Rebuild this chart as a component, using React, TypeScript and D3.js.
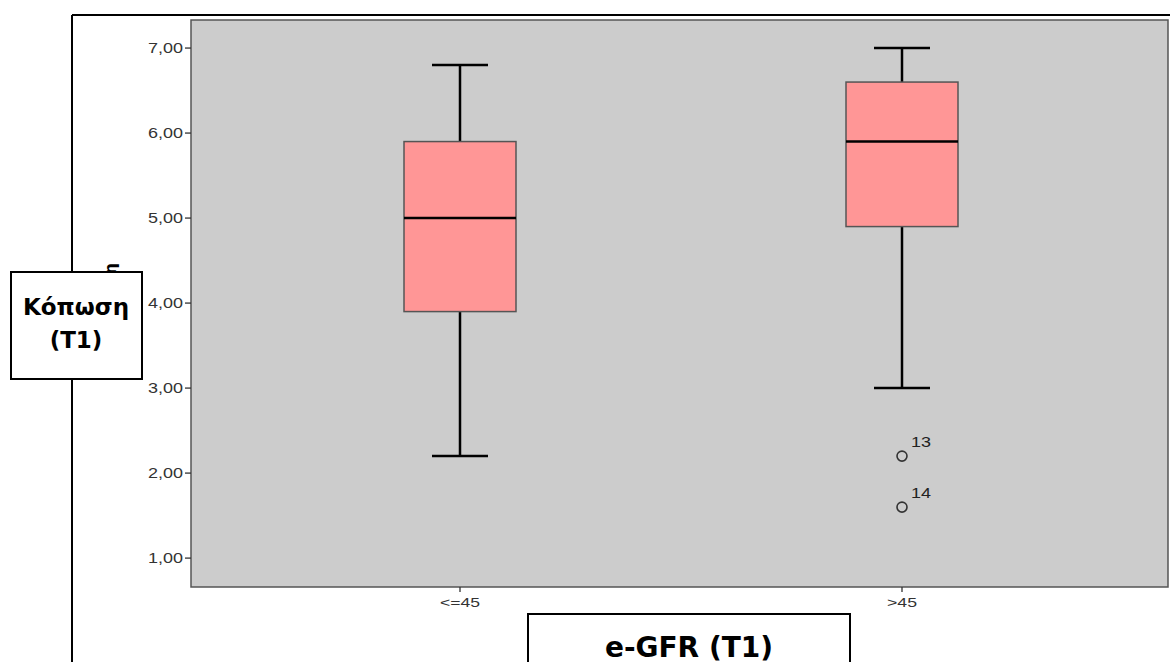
import React from "react";
import * as d3 from "d3";

const categories = ["<=45", ">45"];
const whiskerLow = [2.2, 3.0];
const q1 = [3.9, 4.9];
const median = [5.0, 5.9];
const q3 = [5.9, 6.6];
const whiskerHigh = [6.8, 7.0];
const outlierValues = [[], [2.2, 1.6]];
const outlierLabels = [[], ["13", "14"]];
const yTicks = [1, 2, 3, 4, 5, 6, 7];
const yTitle = "Κόπωση";
const yTitle2 = "(T1)";
const xTitle = "e-GFR (T1)";

const W = 1170;
const H = 662;
const plot = { left: 191, right: 1168, top: 20, bottom: 587 };

export default function App() {
  const y = d3.scaleLinear().domain([0.66, 7.33]).range([plot.bottom, plot.top]);
  const x = d3
    .scalePoint<string>()
    .domain(categories)
    .range([460, 902]);
  const boxW = 112;
  const capW = 56;
  const fmt = (v: number) => d3.format(".2f")(v).replace(".", ",");
  const tickFont = "Liberation Sans, Arial, sans-serif";
  return (
    <svg
      width={W}
      height={H}
      style={{ position: "absolute", left: 0, top: 0, display: "block" }}
    >
      <rect x={0} y={0} width={W} height={H} fill="#fff" />
      {/* outer frame lines */}
      <line x1={72} y1={15} x2={W} y2={15} stroke="#000" strokeWidth={2} />
      <line x1={72} y1={15} x2={72} y2={H} stroke="#000" strokeWidth={2} />
      {/* plot area */}
      <rect
        x={plot.left}
        y={plot.top}
        width={plot.right - plot.left}
        height={plot.bottom - plot.top}
        fill="#CCCCCC"
        stroke="#555"
        strokeWidth={1.5}
      />
      {/* y axis ticks */}
      {yTicks.map((t) => (
        <g key={t}>
          <line x1={plot.left - 6} x2={plot.left} y1={y(t)} y2={y(t)} stroke="#333" strokeWidth={1.3} />
          <text
            x={plot.left - 8}
            y={y(t)}
            dy="0.36em"
            textAnchor="end"
            fontFamily={tickFont}
            fontSize={14}
            textLength={35}
            lengthAdjust="spacingAndGlyphs"
            fill="#333"
          >
            {fmt(t)}
          </text>
        </g>
      ))}
      {/* x axis ticks */}
      {categories.map((c) => (
        <g key={c}>
          <line x1={x(c)} x2={x(c)} y1={plot.bottom} y2={plot.bottom + 5} stroke="#333" strokeWidth={1.3} />
          <text
            x={x(c)}
            y={plot.bottom + 20}
            textAnchor="middle"
            fontFamily={tickFont}
            fontSize={13}
            textLength={c.length > 3 ? 40 : 30}
            lengthAdjust="spacingAndGlyphs"
            fill="#333"
          >
            {c}
          </text>
        </g>
      ))}
      {/* boxes */}
      {categories.map((c, i) => {
        const cx = x(c) as number;
        return (
          <g key={c}>
            <line x1={cx} x2={cx} y1={y(whiskerLow[i])} y2={y(q1[i])} stroke="#000" strokeWidth={2.5} />
            <line x1={cx} x2={cx} y1={y(q3[i])} y2={y(whiskerHigh[i])} stroke="#000" strokeWidth={2.5} />
            <line x1={cx - capW / 2} x2={cx + capW / 2} y1={y(whiskerLow[i])} y2={y(whiskerLow[i])} stroke="#000" strokeWidth={2.5} />
            <line x1={cx - capW / 2} x2={cx + capW / 2} y1={y(whiskerHigh[i])} y2={y(whiskerHigh[i])} stroke="#000" strokeWidth={2.5} />
            <rect
              x={cx - boxW / 2}
              y={y(q3[i])}
              width={boxW}
              height={y(q1[i]) - y(q3[i])}
              fill="#FF9696"
              stroke="#555"
              strokeWidth={1.5}
            />
            <line x1={cx - boxW / 2} x2={cx + boxW / 2} y1={y(median[i])} y2={y(median[i])} stroke="#000" strokeWidth={2.5} />
            {outlierValues[i].map((v, j) => (
              <g key={j}>
                <circle cx={cx} cy={y(v)} r={5} fill="none" stroke="#333" strokeWidth={1.6} />
                <text
                  x={cx + 9}
                  y={y(v) - 9}
                  fontFamily={tickFont}
                  fontSize={14}
                  textLength={20}
                  lengthAdjust="spacingAndGlyphs"
                  fill="#222"
                >
                  {outlierLabels[i][j]}
                </text>
              </g>
            ))}
          </g>
        );
      })}
      {/* hidden rotated y title */}
      <text
        transform={`translate(116, 263) rotate(-90)`}
        textAnchor="end"
        fontFamily="DejaVu Sans, Verdana, sans-serif"
        fontWeight="bold"
        fontSize={16}
        fill="#000"
      >
        {yTitle}
      </text>
      {/* y title box */}
      <rect x={11} y={272} width={131} height={107} fill="#fff" stroke="#000" strokeWidth={2} />
      <text
        x={76}
        y={315}
        textAnchor="middle"
        fontFamily="DejaVu Sans, Verdana, sans-serif"
        fontWeight="bold"
        fontSize={23}
        fill="#000"
      >
        {yTitle}
      </text>
      <text
        x={76}
        y={348}
        textAnchor="middle"
        fontFamily="DejaVu Sans, Verdana, sans-serif"
        fontWeight="bold"
        fontSize={23}
        fill="#000"
      >
        {yTitle2}
      </text>
      {/* x title box */}
      <rect x={528} y={614} width={322} height={60} fill="#fff" stroke="#000" strokeWidth={2} />
      <text
        x={689}
        y={657}
        textAnchor="middle"
        fontFamily="DejaVu Sans, Verdana, sans-serif"
        fontWeight="bold"
        fontSize={28}
        fill="#000"
      >
        {xTitle}
      </text>
    </svg>
  );
}
